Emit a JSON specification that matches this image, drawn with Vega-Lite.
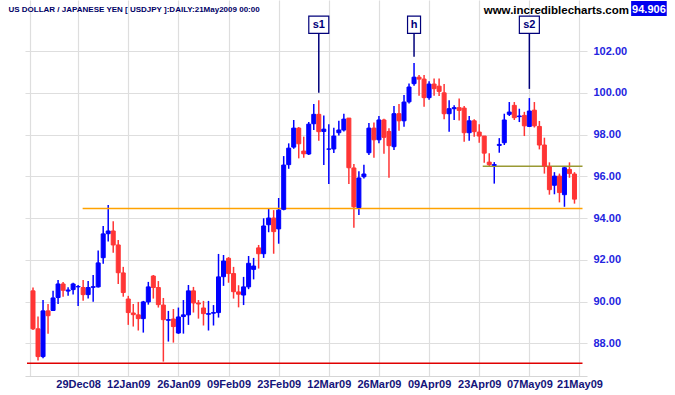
{
  "$schema": "https://vega.github.io/schema/vega-lite/v6.json",
  "width": 562,
  "height": 376,
  "autosize": {"type": "none"},
  "padding": {"left": 25, "right": 88, "top": 0, "bottom": 19},
  "background": "white",
  "config": {"view": {"stroke": null}},
  "datasets": {
    "candles": [
      {"i": -9, "o": 90.51, "h": 90.67, "l": 88.64, "c": 88.69},
      {"i": -8, "o": 88.69, "h": 89.28, "l": 87.17, "c": 87.36},
      {"i": -7, "o": 87.36, "h": 90.07, "l": 87.28, "c": 89.55},
      {"i": -6, "o": 89.55, "h": 89.88, "l": 88.46, "c": 89.32},
      {"i": -5, "o": 89.57, "h": 90.51, "l": 89.55, "c": 90.17},
      {"i": -4, "o": 90.19, "h": 91.03, "l": 89.88, "c": 90.84},
      {"i": -3, "o": 90.84, "h": 90.94, "l": 90.23, "c": 90.54},
      {"i": -2, "o": 90.50, "h": 90.68, "l": 90.28, "c": 90.55},
      {"i": -1, "o": 90.57, "h": 90.90, "l": 90.33, "c": 90.84},
      {"i": 0, "o": 90.70, "h": 90.79, "l": 89.79, "c": 90.72},
      {"i": 1, "o": 90.67, "h": 91.03, "l": 90.04, "c": 90.33},
      {"i": 2, "o": 90.33, "h": 90.98, "l": 90.14, "c": 90.67},
      {"i": 3, "o": 90.68, "h": 91.27, "l": 89.99, "c": 90.71},
      {"i": 4, "o": 90.70, "h": 92.44, "l": 90.67, "c": 91.85},
      {"i": 5, "o": 92.10, "h": 93.62, "l": 91.81, "c": 93.24},
      {"i": 6, "o": 93.25, "h": 94.62, "l": 92.87, "c": 93.38},
      {"i": 7, "o": 93.38, "h": 93.85, "l": 92.34, "c": 92.71},
      {"i": 8, "o": 92.71, "h": 92.95, "l": 90.84, "c": 91.38},
      {"i": 9, "o": 91.37, "h": 91.66, "l": 90.23, "c": 90.43},
      {"i": 10, "o": 90.12, "h": 90.27, "l": 88.88, "c": 89.47},
      {"i": 11, "o": 89.45, "h": 89.88, "l": 88.80, "c": 89.37},
      {"i": 12, "o": 89.36, "h": 89.98, "l": 88.61, "c": 89.18},
      {"i": 13, "o": 89.18, "h": 90.03, "l": 88.51, "c": 89.98},
      {"i": 14, "o": 89.98, "h": 90.94, "l": 89.85, "c": 90.70},
      {"i": 15, "o": 91.22, "h": 91.27, "l": 90.14, "c": 90.67},
      {"i": 16, "o": 90.67, "h": 90.98, "l": 89.71, "c": 89.85},
      {"i": 17, "o": 89.83, "h": 90.17, "l": 87.12, "c": 89.13},
      {"i": 18, "o": 89.10, "h": 89.55, "l": 88.08, "c": 89.13},
      {"i": 19, "o": 89.16, "h": 89.64, "l": 88.03, "c": 88.80},
      {"i": 20, "o": 88.49, "h": 89.71, "l": 88.45, "c": 89.26},
      {"i": 21, "o": 89.28, "h": 90.07, "l": 88.46, "c": 89.36},
      {"i": 22, "o": 89.36, "h": 90.79, "l": 88.88, "c": 90.51},
      {"i": 23, "o": 90.51, "h": 90.70, "l": 89.47, "c": 89.93},
      {"i": 24, "o": 89.93, "h": 90.07, "l": 89.18, "c": 89.88},
      {"i": 25, "o": 89.69, "h": 90.03, "l": 88.85, "c": 89.42},
      {"i": 26, "o": 89.39, "h": 90.03, "l": 88.61, "c": 89.42},
      {"i": 27, "o": 89.44, "h": 89.83, "l": 88.85, "c": 89.47},
      {"i": 28, "o": 89.47, "h": 92.28, "l": 89.23, "c": 91.18},
      {"i": 29, "o": 91.19, "h": 92.23, "l": 90.75, "c": 91.94},
      {"i": 30, "o": 92.07, "h": 92.13, "l": 90.90, "c": 91.34},
      {"i": 31, "o": 91.34, "h": 91.66, "l": 90.14, "c": 90.47},
      {"i": 32, "o": 90.46, "h": 90.78, "l": 89.72, "c": 90.35},
      {"i": 33, "o": 90.31, "h": 91.18, "l": 89.83, "c": 90.70},
      {"i": 34, "o": 90.70, "h": 92.18, "l": 90.59, "c": 91.83},
      {"i": 35, "o": 91.54, "h": 92.09, "l": 91.06, "c": 91.70},
      {"i": 36, "o": 92.57, "h": 92.71, "l": 91.58, "c": 92.29},
      {"i": 37, "o": 92.29, "h": 93.99, "l": 92.09, "c": 93.62},
      {"i": 38, "o": 93.68, "h": 94.46, "l": 93.32, "c": 94.00},
      {"i": 39, "o": 94.00, "h": 94.38, "l": 92.29, "c": 93.35},
      {"i": 40, "o": 93.48, "h": 94.96, "l": 92.77, "c": 94.38},
      {"i": 41, "o": 94.42, "h": 96.97, "l": 94.37, "c": 96.54},
      {"i": 42, "o": 96.56, "h": 97.58, "l": 96.36, "c": 97.35},
      {"i": 43, "o": 97.40, "h": 98.70, "l": 97.32, "c": 98.31},
      {"i": 44, "o": 98.31, "h": 98.36, "l": 96.86, "c": 97.56},
      {"i": 45, "o": 97.21, "h": 97.90, "l": 96.89, "c": 97.08},
      {"i": 46, "o": 97.07, "h": 98.60, "l": 97.02, "c": 98.50},
      {"i": 47, "o": 98.52, "h": 99.46, "l": 98.22, "c": 98.97},
      {"i": 48, "o": 98.97, "h": 99.65, "l": 97.71, "c": 98.14},
      {"i": 49, "o": 98.15, "h": 98.92, "l": 96.54, "c": 98.26},
      {"i": 50, "o": 97.30, "h": 98.49, "l": 95.63, "c": 97.31},
      {"i": 51, "o": 97.31, "h": 98.33, "l": 97.12, "c": 97.93},
      {"i": 52, "o": 98.09, "h": 98.66, "l": 97.96, "c": 98.22},
      {"i": 53, "o": 98.22, "h": 99.00, "l": 98.15, "c": 98.74},
      {"i": 54, "o": 98.79, "h": 98.80, "l": 95.63, "c": 96.41},
      {"i": 55, "o": 96.40, "h": 96.59, "l": 93.54, "c": 94.54},
      {"i": 56, "o": 94.50, "h": 96.24, "l": 94.15, "c": 95.92},
      {"i": 57, "o": 95.98, "h": 96.56, "l": 95.89, "c": 96.11},
      {"i": 58, "o": 97.13, "h": 98.55, "l": 97.02, "c": 98.31},
      {"i": 59, "o": 98.31, "h": 98.58, "l": 96.89, "c": 97.75},
      {"i": 60, "o": 97.75, "h": 98.89, "l": 97.58, "c": 98.70},
      {"i": 61, "o": 98.70, "h": 98.76, "l": 97.08, "c": 97.87},
      {"i": 62, "o": 98.15, "h": 98.30, "l": 95.93, "c": 97.47},
      {"i": 63, "o": 97.42, "h": 99.37, "l": 97.26, "c": 99.00},
      {"i": 64, "o": 99.00, "h": 99.46, "l": 98.18, "c": 98.66},
      {"i": 65, "o": 98.66, "h": 99.90, "l": 98.38, "c": 99.56},
      {"i": 66, "o": 99.57, "h": 100.45, "l": 99.49, "c": 100.28},
      {"i": 67, "o": 100.44, "h": 101.43, "l": 100.34, "c": 100.75},
      {"i": 68, "o": 100.75, "h": 100.85, "l": 99.86, "c": 100.66},
      {"i": 69, "o": 100.66, "h": 100.85, "l": 99.33, "c": 99.77},
      {"i": 70, "o": 99.77, "h": 100.56, "l": 99.67, "c": 100.42},
      {"i": 71, "o": 100.42, "h": 100.69, "l": 99.86, "c": 100.20},
      {"i": 72, "o": 100.32, "h": 100.69, "l": 99.85, "c": 100.07},
      {"i": 73, "o": 100.00, "h": 100.42, "l": 98.73, "c": 99.00},
      {"i": 74, "o": 99.00, "h": 99.65, "l": 98.14, "c": 99.24},
      {"i": 75, "o": 99.24, "h": 99.40, "l": 98.70, "c": 99.29},
      {"i": 76, "o": 99.29, "h": 99.73, "l": 98.68, "c": 99.16},
      {"i": 77, "o": 99.27, "h": 99.37, "l": 97.66, "c": 98.09},
      {"i": 78, "o": 98.09, "h": 98.89, "l": 97.71, "c": 98.66},
      {"i": 79, "o": 98.66, "h": 98.73, "l": 97.90, "c": 98.14},
      {"i": 80, "o": 98.12, "h": 98.49, "l": 97.61, "c": 97.93},
      {"i": 81, "o": 97.93, "h": 97.93, "l": 96.65, "c": 97.11},
      {"i": 82, "o": 96.68, "h": 97.10, "l": 96.46, "c": 96.56},
      {"i": 83, "o": 96.53, "h": 96.68, "l": 95.65, "c": 96.56},
      {"i": 84, "o": 97.48, "h": 97.83, "l": 97.13, "c": 97.53},
      {"i": 85, "o": 97.61, "h": 99.00, "l": 97.50, "c": 98.70},
      {"i": 86, "o": 98.97, "h": 99.56, "l": 98.89, "c": 99.08},
      {"i": 87, "o": 99.40, "h": 99.56, "l": 98.70, "c": 98.81},
      {"i": 88, "o": 98.86, "h": 99.24, "l": 98.60, "c": 98.89},
      {"i": 89, "o": 98.92, "h": 99.09, "l": 97.93, "c": 98.42},
      {"i": 90, "o": 98.39, "h": 99.75, "l": 98.36, "c": 99.13},
      {"i": 91, "o": 99.17, "h": 99.56, "l": 98.34, "c": 98.42},
      {"i": 92, "o": 98.39, "h": 98.65, "l": 97.29, "c": 97.50},
      {"i": 93, "o": 97.50, "h": 97.85, "l": 96.13, "c": 96.49},
      {"i": 94, "o": 96.46, "h": 96.67, "l": 95.12, "c": 95.36},
      {"i": 95, "o": 95.57, "h": 96.20, "l": 95.14, "c": 96.01},
      {"i": 96, "o": 96.01, "h": 96.13, "l": 94.75, "c": 95.22},
      {"i": 97, "o": 95.12, "h": 96.46, "l": 94.54, "c": 96.41},
      {"i": 98, "o": 96.33, "h": 96.67, "l": 95.93, "c": 96.13},
      {"i": 99, "o": 96.11, "h": 96.20, "l": 94.69, "c": 94.906}
    ],
    "levels": [
      {"name": "support", "x1": 0.9, "x2": 100.6, "y": 94.46},
      {"name": "neckline", "x1": 80.7, "x2": 100.6, "y": 96.48},
      {"name": "base", "x1": -10.2, "x2": 100.6, "y": 87.04}
    ],
    "points": [
      {"label": "s1", "i": 48, "top": 103.68, "mid": 103.25, "base": 102.85, "end": 100.0},
      {"label": "h", "i": 67, "top": 103.68, "mid": 103.25, "base": 102.85, "end": 101.73},
      {"label": "s2", "i": 90, "top": 103.68, "mid": 103.25, "base": 102.85, "end": 100.19}
    ],
    "header": [
      {"text": "US DOLLAR / JAPANESE YEN [ USDJPY ]:DAILY:21May2009 00:00", "kind": "title", "x": -13.9, "y": 103.87},
      {"text": "www.incrediblecharts.com", "kind": "site", "x": 80.9, "y": 103.8}
    ],
    "last": [
      {"text": "94.906", "x1": 110.3, "x2": 117.4, "xm": 113.85, "top": 104.4, "bottom": 103.68, "y": 103.84}
    ]
  },
  "layer": [
    {
      "data": {"name": "candles"},
      "mark": {"type": "rule", "strokeWidth": 1.5},
      "encoding": {
        "x": {
          "field": "i", "type": "quantitative",
          "scale": {"domain": [-9.6, 100.5], "nice": false, "zero": false},
          "axis": {
            "title": null,
            "values": [-9.6, 0, 10, 20, 30, 40, 50, 60, 70, 80, 90, 100],
            "labelExpr": "datum.value < 0 ? '' : ['29Dec08','12Jan09','26Jan09','09Feb09','23Feb09','12Mar09','26Mar09','09Apr09','23Apr09','07May09','21May09'][round(datum.value / 10)]",
            "grid": true, "gridColor": "#dedede", "gridWidth": 1.2,
            "domain": true, "domainColor": "#d6d6d6", "domainWidth": 1.2,
            "ticks": false, "tickSize": 0,
            "labelFont": "Liberation Sans", "labelFontWeight": "bold", "labelFontSize": 11,
            "labelColor": "#14147a", "labelPadding": 2,
            "labelOverlap": false, "labelFlush": false
          }
        },
        "y": {
          "field": "l", "type": "quantitative",
          "scale": {"domain": [86.43, 104.45], "nice": false, "zero": false},
          "axis": {
            "title": null, "orient": "right",
            "values": [88, 89, 90, 91, 92, 93, 94, 95, 96, 97, 98, 99, 100, 101, 102],
            "format": ".2f", "labelOverlap": false, "labelFlush": false,
            "grid": true, "gridColor": "#dedede", "gridWidth": 1.2,
            "domain": false, "ticks": false, "tickSize": 0,
            "labelFont": "Liberation Sans", "labelFontWeight": "bold", "labelFontSize": 11,
            "labelColor": "#2424e0", "labelPadding": 6
          }
        },
        "y2": {"field": "h"},
        "color": {"condition": {"test": "datum.c >= datum.o", "value": "#0000ff"}, "value": "#ff3535"}
      }
    },
    {
      "data": {"name": "levels"},
      "mark": {"type": "rule", "strokeWidth": 1.4},
      "encoding": {
        "x": {"field": "x1", "type": "quantitative"},
        "x2": {"field": "x2"},
        "y": {"field": "y", "type": "quantitative"},
        "color": {"field": "name", "type": "nominal", "scale": {"domain": ["support", "neckline", "base"], "range": ["#ffa200", "#999933", "#e00000"]}, "legend": null}
      }
    },
    {
      "data": {"name": "candles"},
      "mark": {"type": "bar", "size": 4, "strokeWidth": 1},
      "encoding": {
        "x": {"field": "i", "type": "quantitative"},
        "y": {"field": "o", "type": "quantitative"},
        "y2": {"field": "c"},
        "color": {"condition": {"test": "datum.c >= datum.o", "value": "#0000ff"}, "value": "#ff3535"},
        "stroke": {"condition": {"test": "datum.c >= datum.o", "value": "#0000ff"}, "value": "#ff3535"}
      }
    },
    {
      "data": {"name": "points"},
      "mark": {"type": "rule", "strokeWidth": 1.5, "color": "#00007a"},
      "encoding": {
        "x": {"field": "i", "type": "quantitative"},
        "y": {"field": "base", "type": "quantitative"},
        "y2": {"field": "end"}
      }
    },
    {
      "data": {"name": "points"},
      "transform": [{"filter": "datum.label != 'h'"}],
      "mark": {"type": "bar", "fill": "white", "stroke": "#00007a", "strokeWidth": 1.2, "size": 20},
      "encoding": {
        "x": {"field": "i", "type": "quantitative"},
        "y": {"field": "top", "type": "quantitative"},
        "y2": {"field": "base"}
      }
    },
    {
      "data": {"name": "points"},
      "transform": [{"filter": "datum.label == 'h'"}],
      "mark": {"type": "bar", "fill": "white", "stroke": "#00007a", "strokeWidth": 1.2, "size": 13},
      "encoding": {
        "x": {"field": "i", "type": "quantitative"},
        "y": {"field": "top", "type": "quantitative"},
        "y2": {"field": "base"}
      }
    },
    {
      "data": {"name": "points"},
      "mark": {"type": "text", "font": "Liberation Sans", "fontWeight": "bold", "fontSize": 11, "color": "#00007a", "baseline": "middle", "align": "center"},
      "encoding": {
        "x": {"field": "i", "type": "quantitative"},
        "y": {"field": "mid", "type": "quantitative"},
        "text": {"field": "label", "type": "nominal"}
      }
    },
    {
      "data": {"name": "header"},
      "transform": [{"filter": "datum.kind == 'title'"}],
      "mark": {"type": "text", "font": "Liberation Sans", "fontWeight": "bold", "fontSize": 8, "color": "#000066", "align": "left", "baseline": "alphabetic"},
      "encoding": {
        "x": {"field": "x", "type": "quantitative"},
        "y": {"field": "y", "type": "quantitative"},
        "text": {"field": "text", "type": "nominal"}
      }
    },
    {
      "data": {"name": "header"},
      "transform": [{"filter": "datum.kind == 'site'"}],
      "mark": {"type": "text", "font": "Liberation Sans", "fontWeight": "bold", "fontSize": 11.5, "color": "#000000", "align": "left", "baseline": "alphabetic"},
      "encoding": {
        "x": {"field": "x", "type": "quantitative"},
        "y": {"field": "y", "type": "quantitative"},
        "text": {"field": "text", "type": "nominal"}
      }
    },
    {
      "data": {"name": "last"},
      "mark": {"type": "rect", "color": "#0000ee"},
      "encoding": {
        "x": {"field": "x1", "type": "quantitative"},
        "x2": {"field": "x2"},
        "y": {"field": "top", "type": "quantitative"},
        "y2": {"field": "bottom"}
      }
    },
    {
      "data": {"name": "last"},
      "mark": {"type": "text", "font": "Liberation Sans", "fontWeight": "bold", "fontSize": 11, "color": "#ffffff", "align": "center", "baseline": "alphabetic"},
      "encoding": {
        "x": {"field": "xm", "type": "quantitative"},
        "y": {"field": "y", "type": "quantitative"},
        "text": {"field": "text", "type": "nominal"}
      }
    }
  ]
}
